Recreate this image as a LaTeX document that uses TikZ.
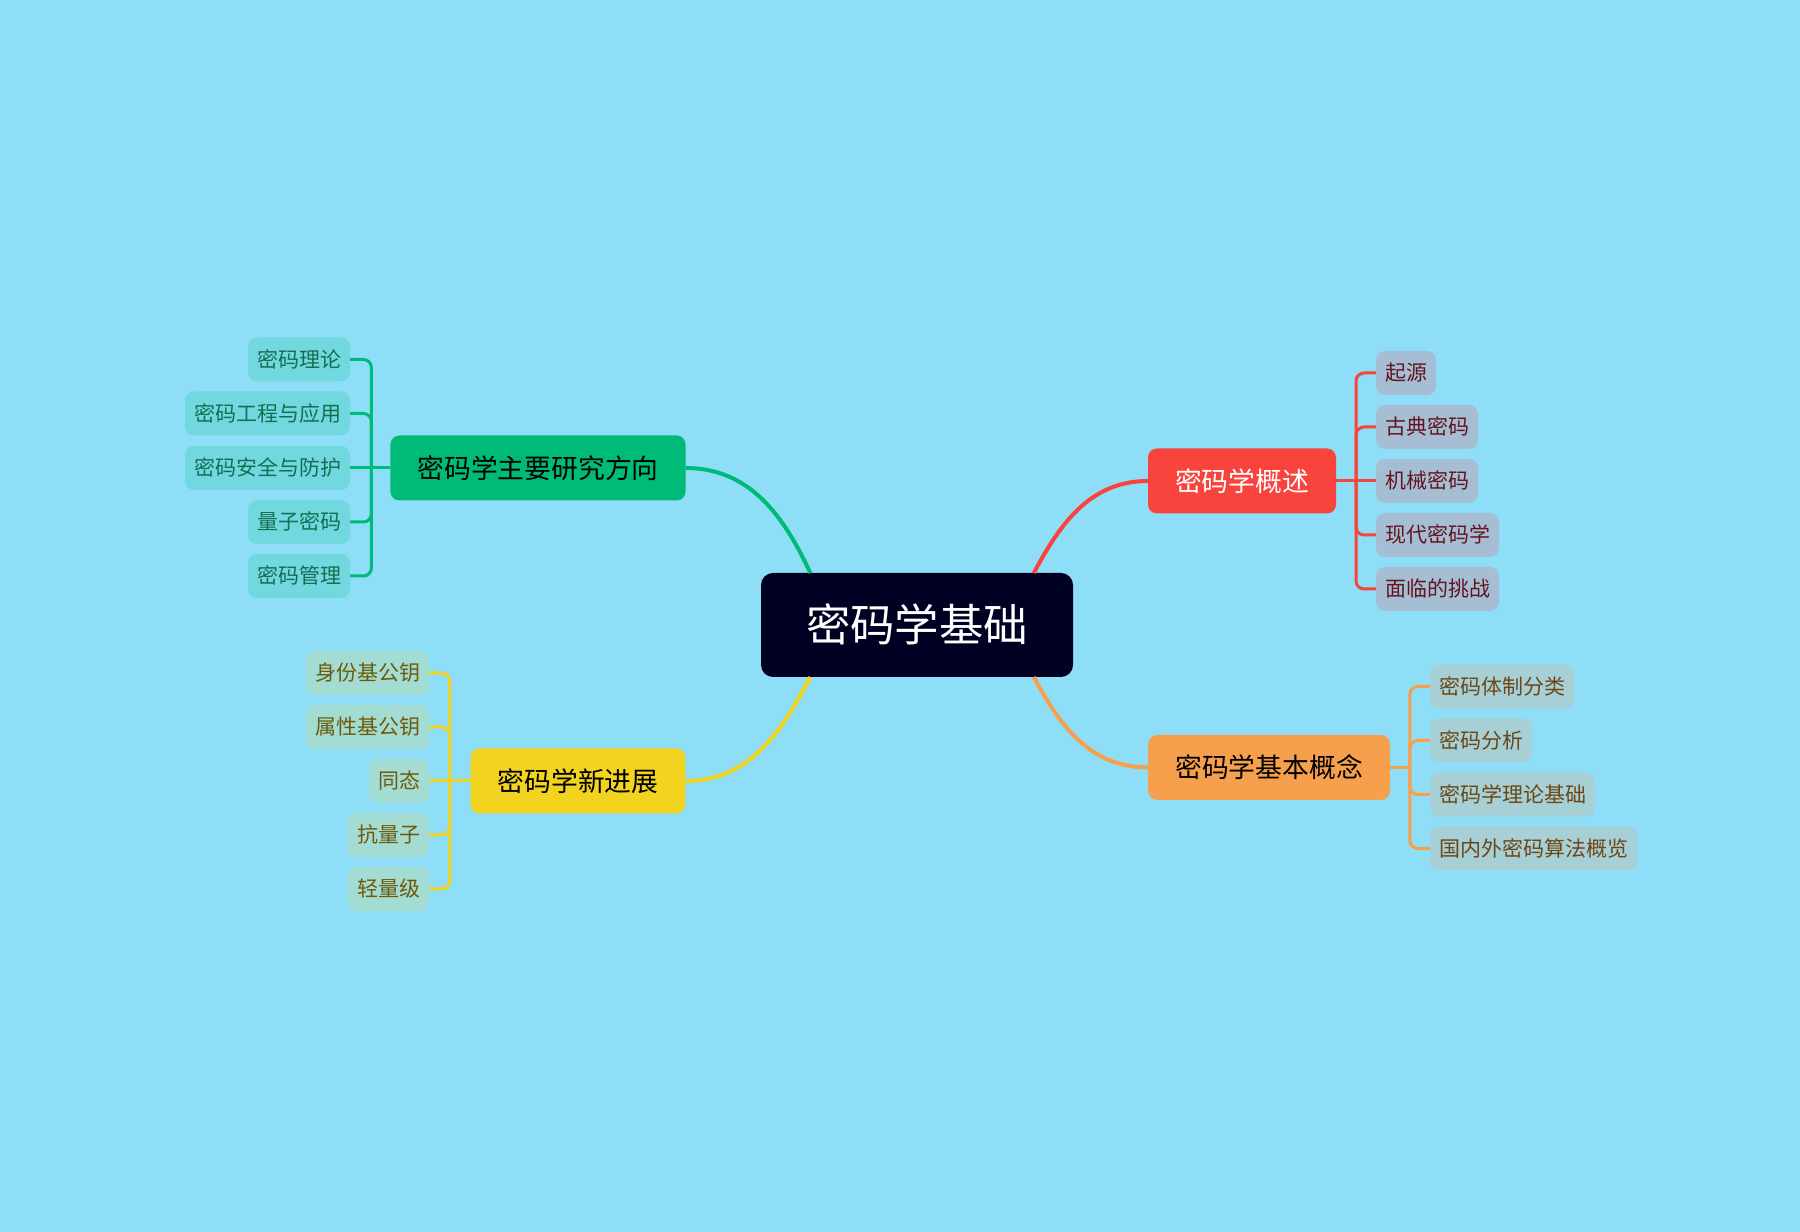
\documentclass[tikz,border=0pt]{standalone}
\usepackage{fontspec}
\newfontfamily\cjk{Noto Sans CJK SC}
\usepackage{tikz}
\usetikzlibrary{positioning}

\definecolor{bgblue}{HTML}{8EDEF8}
\definecolor{rootc}{HTML}{000022}
\definecolor{cgreen}{HTML}{00BB77}
\definecolor{cred}{HTML}{F9443D}
\definecolor{cyellow}{HTML}{F2D31F}
\definecolor{corange}{HTML}{F6A04D}
\definecolor{lgreen}{HTML}{72D8E0}
\definecolor{lred}{HTML}{A6BED4}
\definecolor{lyellow}{HTML}{A3DCD2}
\definecolor{lorange}{HTML}{A6D0D6}
\definecolor{tgreen}{HTML}{146E50}
\definecolor{tred}{HTML}{64141E}
\definecolor{tyellow}{HTML}{6E5A0A}
\definecolor{torange}{HTML}{6E4614}

\begin{document}
\begin{tikzpicture}[x=0.5pt,y=0.5pt,
  base/.style={inner ysep=0pt,outer sep=0pt},
  rootbox/.style={base,fill=rootc,text=white,rounded corners=6pt,
    font=\cjk\fontsize{22.2}{26}\selectfont,inner xsep=22.5pt,
    minimum height=52pt,text height=19.5pt,text depth=2.7pt},
  topic/.style={base,rounded corners=4.5pt,
    font=\cjk\fontsize{13.4}{16}\selectfont,inner xsep=13.5pt,
    minimum height=32.5pt,text height=11.8pt,text depth=1.6pt},
  leaf/.style={base,rounded corners=4.5pt,
    font=\cjk\fontsize{10.5}{13}\selectfont,inner xsep=4.5pt,
    minimum height=22pt,text height=9.2pt,text depth=1.3pt},
  link/.style={line width=2pt},
  twig/.style={line width=1.5pt,rounded corners=4pt}]

  % Baggrund
  \fill[bgblue] (0,0) rectangle (1800,1232);
  \useasboundingbox (0,0) rectangle (1800,1232);

  % Rod og hovedemner
  \node[rootbox] (root) at (917,607) {密码学基础};
  \node[topic,fill=cgreen] (research) at (538,764) {密码学主要研究方向};
  \node[topic,fill=cred,text=white] (overview) at (1242,751) {密码学概述};
  \node[topic,fill=cyellow] (advance) at (578,451) {密码学新进展};
  \node[topic,fill=corange] (concept) at (1269,464.5) {密码学基本概念};

  % Forbindelser fra roden
  \draw[link,cgreen] (research.east) to[out=0,in=115] (root.154);
  \draw[link,cred] (root.24) to[out=62,in=180] (overview.west);
  \draw[link,cyellow] (root.206) to[out=-118,in=0] (advance.east);
  \draw[link,corange] (root.336) to[out=-62,in=180] (concept.west);

  % Forskningsretninger
  \node[leaf,fill=lgreen,text=tgreen,anchor=east] (r1) at (350,872.5) {密码理论};
  \node[leaf,fill=lgreen,text=tgreen,anchor=east] (r2) at (350,818.5) {密码工程与应用};
  \node[leaf,fill=lgreen,text=tgreen,anchor=east] (r3) at (350,764) {密码安全与防护};
  \node[leaf,fill=lgreen,text=tgreen,anchor=east] (r4) at (350,710) {量子密码};
  \node[leaf,fill=lgreen,text=tgreen,anchor=east] (r5) at (350,656) {密码管理};
  \path (research.west) ++(-19,0) coordinate (rj);
  \draw[twig,cgreen] (research.west) -- (rj);
  \draw[twig,cgreen] (r1.east) -| (rj);
  \draw[twig,cgreen] (r2.east) -| (rj);
  \draw[twig,cgreen] (r3.east) -- (rj);
  \draw[twig,cgreen] (r4.east) -| (rj);
  \draw[twig,cgreen] (r5.east) -| (rj);

  % Oversigt
  \node[leaf,fill=lred,text=tred,anchor=west] (o1) at (1376,859) {起源};
  \node[leaf,fill=lred,text=tred,anchor=west] (o2) at (1376,805) {古典密码};
  \node[leaf,fill=lred,text=tred,anchor=west] (o3) at (1376,751) {机械密码};
  \node[leaf,fill=lred,text=tred,anchor=west] (o4) at (1376,697) {现代密码学};
  \node[leaf,fill=lred,text=tred,anchor=west] (o5) at (1376,643) {面临的挑战};
  \path (overview.east) ++(20,0) coordinate (oj);
  \draw[twig,cred] (overview.east) -- (oj);
  \draw[twig,cred] (o1.west) -| (oj);
  \draw[twig,cred] (o2.west) -| (oj);
  \draw[twig,cred] (o3.west) -- (oj);
  \draw[twig,cred] (o4.west) -| (oj);
  \draw[twig,cred] (o5.west) -| (oj);

  % Nye fremskridt
  \node[leaf,fill=lyellow,text=tyellow,anchor=east] (a1) at (429,559) {身份基公钥};
  \node[leaf,fill=lyellow,text=tyellow,anchor=east] (a2) at (429,505) {属性基公钥};
  \node[leaf,fill=lyellow,text=tyellow,anchor=east] (a3) at (429,451) {同态};
  \node[leaf,fill=lyellow,text=tyellow,anchor=east] (a4) at (429,397) {抗量子};
  \node[leaf,fill=lyellow,text=tyellow,anchor=east] (a5) at (429,343) {轻量级};
  \path (advance.west) ++(-21,0) coordinate (aj);
  \draw[twig,cyellow] (advance.west) -- (aj);
  \draw[twig,cyellow] (a1.east) -| (aj);
  \draw[twig,cyellow] (a2.east) -| (aj);
  \draw[twig,cyellow] (a3.east) -- (aj);
  \draw[twig,cyellow] (a4.east) -| (aj);
  \draw[twig,cyellow] (a5.east) -| (aj);

  % Grundbegreber
  \node[leaf,fill=lorange,text=torange,anchor=west] (c1) at (1430,545.5) {密码体制分类};
  \node[leaf,fill=lorange,text=torange,anchor=west] (c2) at (1430,491.5) {密码分析};
  \node[leaf,fill=lorange,text=torange,anchor=west] (c3) at (1430,437.5) {密码学理论基础};
  \node[leaf,fill=lorange,text=torange,anchor=west] (c4) at (1430,383.5) {国内外密码算法概览};
  \path (concept.east) ++(20,0) coordinate (cj);
  \draw[twig,corange] (concept.east) -- (cj);
  \draw[twig,corange] (c1.west) -| (cj);
  \draw[twig,corange] (c2.west) -| (cj);
  \draw[twig,corange] (c3.west) -| (cj);
  \draw[twig,corange] (c4.west) -| (cj);
\end{tikzpicture}
\end{document}
